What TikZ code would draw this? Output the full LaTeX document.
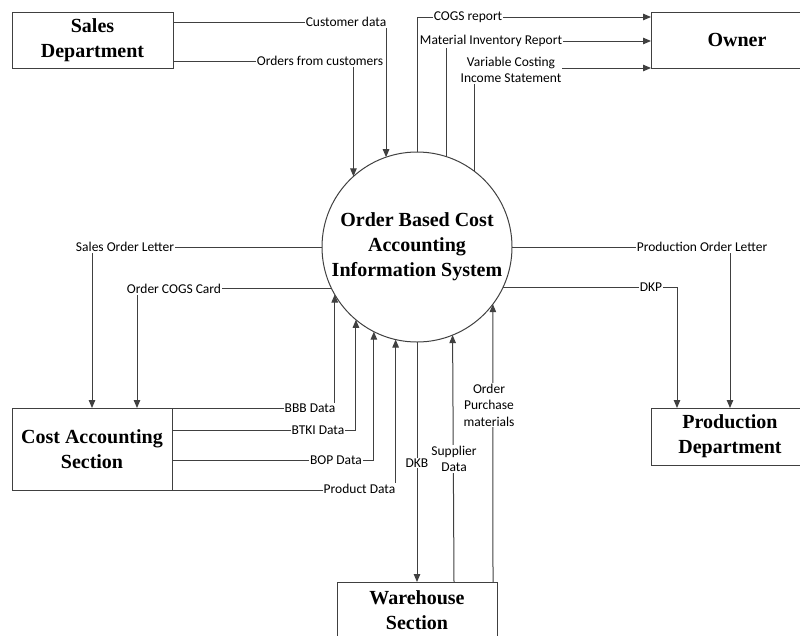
\documentclass[tikz,border=0pt]{standalone}
\usepackage{fontspec}
\setmainfont{Liberation Serif}
\newfontfamily\lblfont{Carlito}
\usetikzlibrary{arrows.meta}
\begin{document}
\begin{tikzpicture}[x=1pt,y=-1pt,
  ent/.style={draw=black!75, line width=1pt, font=\bfseries\fontsize{20}{25}\selectfont, align=center, inner sep=0pt, outer sep=0pt},
  lab/.style={fill=white, font=\lblfont\fontsize{13.5}{16.5}\selectfont, inner sep=1pt, align=center},
  flow/.style={draw=black!75, line width=1pt},
  arr/.style={flow, -{Triangle[length=8pt,width=6.5pt]}}]
\useasboundingbox (0,0) rectangle (800,635);
\clip (0,0) rectangle (800,635);

% entities
\node[ent, minimum width=161pt, minimum height=56pt] (sales) at (92.5,40) {Sales\\Department};
\node[ent, minimum width=172pt, minimum height=56pt] (owner) at (737,40) {Owner};
\node[ent, circle, minimum size=190pt] (sys) at (417,247) {Order Based Cost\\Accounting\\Information System};
\node[ent, minimum width=160pt, minimum height=82pt] (ca) at (92,449) {Cost Accounting\\Section};
\node[ent, minimum width=158pt, minimum height=57pt] (prod) at (730,436.5) {Production\\Department};
\node[ent, minimum width=160pt, minimum height=56pt] (wh) at (417,610) {Warehouse\\Section};

% flows
\draw[arr] (sales.east |- 0,22) -| (sys.109.7);
\draw[arr] (sales.east |- 0,61) -| (sys.132.4);
\draw[arr] (sys.90) |- (owner.west |- 0,17);
\draw[arr] (sys.72.9) |- (owner.west |- 0,41);
\draw[arr] (sys.53.9) |- (owner.south west);
\draw[arr] (sys.180) -| (ca.north);
\draw[arr] (sys.206.2) -| (ca.north -| 137,0);
\draw[arr] (ca.north east) -| (sys.210.3);
\draw[arr] (ca.east |- 0,430) -| (sys.230.06);
\draw[arr] (ca.east |- 0,460) -| (sys.243.8);
\draw[arr] (ca.south east) -| (sys.257.85);
\draw[arr] (sys.270) -- (wh.north);
\draw[arr] (wh.north -| 454,0) -- (sys.292.9);
\draw[arr] (wh.north -| 493,0) -- (sys.323.13);
\draw[arr] (sys.0) -| (prod.north);
\draw[arr] (sys.335.1) -| (prod.north -| 677,0);

% labels
\node[lab] (l1) at (346,22) {Customer data};
\node[lab] (l2) at (320,61) {Orders from customers};
\node[lab] (l3) at (468,17) {COGS report};
\node[lab] (l4) at (491,41) {Material Inventory Report};
\node[lab] (l5) at (511,70) {Variable Costing\\Income Statement};
\node[lab] (l6) at (125,247) {Sales Order Letter};
\node[lab] (l7) at (174,289) {Order COGS Card};
\node[lab] (l8) at (310,408) {BBB Data};
\node[lab] (l9) at (318,430) {BTKI Data};
\node[lab] (l10) at (336,460) {BOP Data};
\node[lab] (l11) at (359.5,489) {Product Data};
\node[lab] (l12) at (417,463) {DKB};
\node[lab] (l13) at (454,459) {Supplier\\Data};
\node[lab] (l14) at (489,405) {Order\\Purchase\\materials};
\node[lab] (l15) at (702,247) {Production Order Letter};
\node[lab] (l16) at (651,287) {DKP};
\end{tikzpicture}
\end{document}
